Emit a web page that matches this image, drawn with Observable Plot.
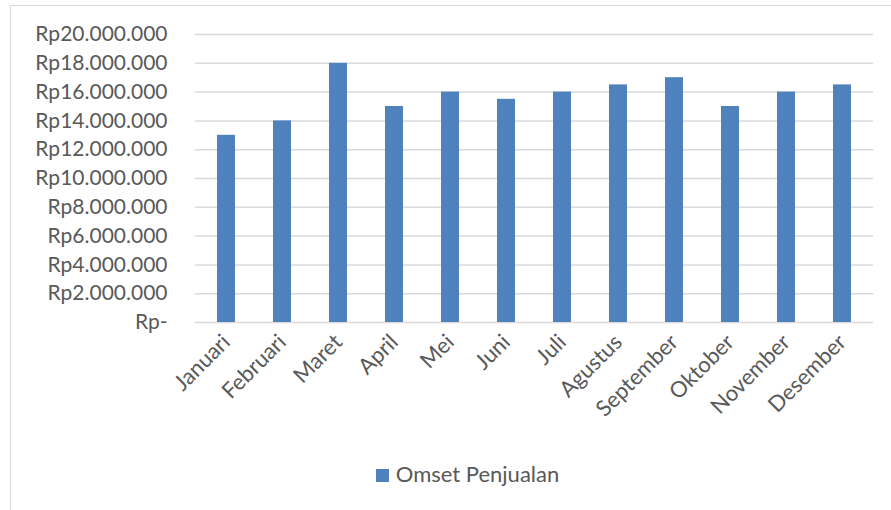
<!DOCTYPE html>
<html><head><meta charset="utf-8">
<script src="https://cdn.jsdelivr.net/npm/d3@7"></script>
<script src="https://cdn.jsdelivr.net/npm/@observablehq/plot@0.6"></script>
<style>
body{margin:0;background:#fff;font-family:Lato,"Liberation Sans",sans-serif;}
#frame{position:absolute;left:10px;top:5px;width:900px;height:520px;border:1.5px solid #d9d9d9;box-sizing:border-box;}
#chart{position:absolute;left:0;top:0;}
#legend{position:absolute;left:16px;top:454px;width:881px;text-align:center;font-size:22px;color:#595959;}
#legend span.sw{display:inline-block;width:13px;height:13px;background:#4f81bd;margin-right:7px;vertical-align:0px;}
</style></head>
<body>
<div id="frame"><div id="chart"></div><div id="legend"><span class="sw"></span>Omset Penjualan</div></div>
<script>
const months = ["Januari","Februari","Maret","April","Mei","Juni","Juli","Agustus","September","Oktober","November","Desember"];
const omset = [13000000,14000000,18000000,15000000,16000000,15500000,16000000,16500000,17000000,15000000,16000000,16500000];
const yTicks = [0,2000000,4000000,6000000,8000000,10000000,12000000,14000000,16000000,18000000,20000000];
const data = months.map((m,i)=>({bulan:m, nilai:omset[i]}));
const fmt = d => d===0 ? "Rp-" : "Rp" + d3.format(",")(d).replace(/,/g,".");
const chart = Plot.plot({
  width: 881, height: 440,
  marginLeft: 184, marginRight: 19, marginTop: 28, marginBottom: 124,
  style:{fontFamily:"Lato, 'Liberation Sans', sans-serif", fontSize:"21px", color:"#595959", background:"transparent"},
  x:{domain:months, paddingInner:0.68, paddingOuter:0.34, label:null},
  y:{domain:[0,20000000], label:null},
  marks:[
    Plot.gridY(yTicks,{stroke:"#d9d9d9", strokeOpacity:1, strokeWidth:1.5}),
    Plot.barY(data,{x:"bulan", y:"nilai", fill:"#4f81bd"}),
    Plot.axisY({ticks:yTicks, tickFormat:fmt, tickSize:0, tickPadding:28, fill:"#595959", fontSize:21}),
    Plot.axisX({tickRotate:-45, tickSize:0, tickPadding:16, fill:"#595959", fontSize:22})
  ]
});
document.getElementById("chart").appendChild(chart);
</script>
</body></html>
